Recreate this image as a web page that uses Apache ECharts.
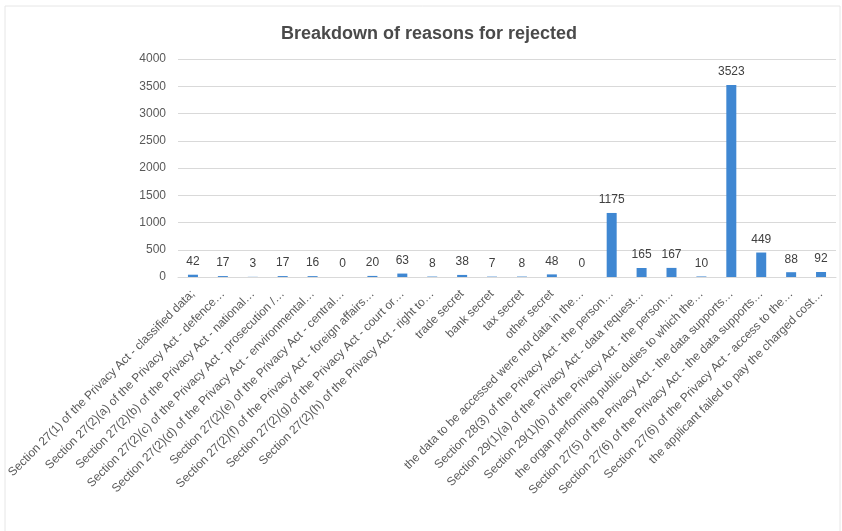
<!DOCTYPE html>
<html>
<head>
<meta charset="utf-8">
<script src="https://cdn.jsdelivr.net/npm/echarts@6/dist/echarts.min.js"></script>
<style>html,body{margin:0;padding:0;background:#fff}#c{width:842px;height:531px}</style>
</head>
<body>
<div id="c"></div>
<script>
const titleText = "Breakdown of reasons for rejected";
const categories = [
  "Section 27(1) of the Privacy Act - classified data;",
  "Section 27(2)(a) of the Privacy Act - defence…",
  "Section 27(2)(b) of the Privacy Act - national…",
  "Section 27(2)(c) of the Privacy Act - prosecution /…",
  "Section 27(2)(d) of the Privacy Act - environmental…",
  "Section 27(2)(e) of the Privacy Act - central…",
  "Section 27(2)(f) of the Privacy Act - foreign affairs…",
  "Section 27(2)(g) of the Privacy Act - court or…",
  "Section 27(2)(h) of the Privacy Act - right to…",
  "trade secret",
  "bank secret",
  "tax secret",
  "other secret",
  "the data to be accessed were not data in the…",
  "Section 28(3) of the Privacy Act - the person…",
  "Section 29(1)(a) of the Privacy Act - data request…",
  "Section 29(1)(b) of the Privacy Act - the person…",
  "the organ performing public duties to which the…",
  "Section 27(5) of the Privacy Act - the data supports…",
  "Section 27(6) of the Privacy Act - the data supports…",
  "Section 27(6) of the Privacy Act - access to the…",
  "the applicant failed to pay the charged cost…"
];
const values = [42, 17, 3, 17, 16, 0, 20, 63, 8, 38, 7, 8, 48, 0, 1175, 165, 167, 10, 3523, 449, 88, 92];
const yTicks = [0, 500, 1000, 1500, 2000, 2500, 3000, 3500, 4000];

const chart = echarts.init(document.getElementById('c'), null, {renderer: 'canvas'});
chart.setOption({
  backgroundColor: '#ffffff',
  animation: false,
  title: {
    text: titleText,
    left: 424, top: 20, textAlign: 'center',
    textStyle: {fontFamily: 'Liberation Sans', fontWeight: 'bold', fontSize: 18, color: '#4a4a4a'}
  },
  graphic: [{
    type: 'rect', shape: {x: 5, y: 6, width: 835, height: 540},
    style: {fill: 'none', stroke: '#e6e6e6', lineWidth: 1}, silent: true
  }],
  grid: {left: 178, right: 6, top: 59, bottom: 254, containLabel: false},
  xAxis: {
    type: 'category',
    data: categories,
    axisTick: {show: false},
    axisLine: {lineStyle: {color: '#d9d9d9'}},
    axisLabel: {
      interval: 0, rotate: 45, fontSize: 12, color: '#595959',
      fontFamily: 'Liberation Sans', margin: 15
    }
  },
  yAxis: {
    type: 'value',
    min: yTicks[0], max: yTicks[yTicks.length - 1], interval: 500,
    axisLine: {show: false}, axisTick: {show: false},
    splitLine: {lineStyle: {color: '#d9d9d9', width: 1}},
    axisLabel: {fontSize: 12, color: '#595959', fontFamily: 'Liberation Sans', margin: 12,
      formatter: function (v) { return String(v); }}
  },
  series: [{
    type: 'bar',
    data: values,
    barWidth: 10,
    itemStyle: {color: '#3f87d2'},
    label: {
      show: true, position: 'top', distance: 7,
      fontSize: 12, color: '#404040', fontFamily: 'Liberation Sans'
    }
  }]
});
</script>
</body>
</html>
